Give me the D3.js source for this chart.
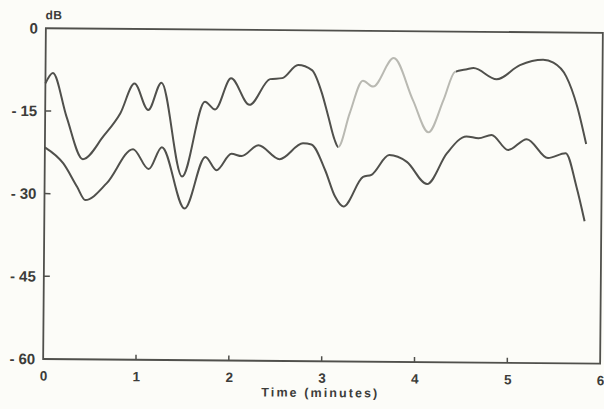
<!DOCTYPE html>
<html>
<head>
<meta charset="utf-8">
<script src="https://cdn.jsdelivr.net/npm/d3@7"></script>
<style>
  html, body { margin: 0; padding: 0; background: #fcfcf8; }
  svg { display: block; }
  text { font-family: "Liberation Sans", Arial, Helvetica, sans-serif; font-weight: bold; fill: #3c3c3a; }
</style>
</head>
<body>
<svg id="chart" width="604" height="409"></svg>
<script>
// ---- data ----
const upperTime = [0, 0.08, 0.23, 0.41, 0.63, 0.81, 0.96, 1.11, 1.25, 1.48, 1.72, 1.83, 2.0, 2.20, 2.42, 2.55, 2.72, 2.87, 2.98, 3.05, 3.12, 3.16, 3.28, 3.42, 3.53, 3.75, 3.96, 4.13, 4.29, 4.41, 4.54, 4.61, 4.86, 5.11, 5.36, 5.47, 5.61, 5.73, 5.83];
const upperDb   = [-10.0, -8.1, -16.0, -23.7, -19.5, -15.3, -9.9, -14.7, -9.7, -26.7, -13.1, -14.5, -8.8, -13.6, -8.9, -8.7, -6.3, -7.2, -11.4, -15.6, -19.8, -21.1, -15.0, -9.05, -10.1, -4.9, -12.5, -18.3, -12.4, -7.3, -6.8, -6.6, -8.6, -6.0, -5.0, -5.5, -8.0, -13.4, -20.2];
const lowerTime = [0, 0.20, 0.35, 0.44, 0.67, 0.95, 1.12, 1.26, 1.51, 1.73, 1.85, 2.01, 2.12, 2.30, 2.53, 2.78, 2.87, 3.02, 3.13, 3.22, 3.43, 3.52, 3.71, 3.90, 4.12, 4.33, 4.54, 4.67, 4.81, 4.99, 5.19, 5.42, 5.61, 5.73, 5.82];
const lowerDb   = [-21.6, -24.5, -28.7, -31.1, -28.0, -21.8, -25.4, -21.4, -32.5, -23.1, -25.5, -22.5, -22.9, -20.9, -23.4, -20.5, -20.7, -25.3, -30.1, -31.9, -26.5, -26.1, -22.5, -23.7, -27.7, -22.1, -19.0, -19.3, -18.7, -21.4, -19.4, -22.8, -21.9, -28.0, -34.2];
// faded (lighter) stretch of the upper trace in the reference
const fadedRange = [3.16, 4.42];
const xTicks = [0, 1, 2, 3, 4, 5, 6];
const yTicks = [0, -15, -30, -45, -60];
const xTitle = "Time (minutes)";
const yTitle = "dB";

(function draw() {
  const svg = d3.select("#chart");
  const pL = 44.5, pR = 601.5, pT = 30.5, pB = 361.3;
  const x = d3.scaleLinear().domain([0, 6]).range([pL, pR]);
  const y = d3.scaleLinear().domain([-60, 0]).range([pB, pT]);
  const dark = "#50504c", light = "#b9b9b2";

  // the scanned original is slightly rotated
  const g = svg.append("g").attr("transform", "rotate(0.47,323,196)");

  // frame
  g.append("rect")
    .attr("x", pL).attr("y", pT)
    .attr("width", pR - pL).attr("height", pB - pT)
    .attr("fill", "none").attr("stroke", dark).attr("stroke-width", 1.8);

  // y axis labels
  const yAxis = d3.axisLeft(y).tickValues(yTicks).tickSize(0).tickPadding(8);
  const ya = g.append("g").attr("transform", `translate(${pL},0)`).call(yAxis);
  ya.select(".domain").remove();
  ya.selectAll("text")
    .attr("font-family", null).attr("fill", "#3c3c3a").style("font-size", "15px")
    .each(function (d) {
      const t = d3.select(this);
      t.text(null);
      if (d < 0) {
        t.append("tspan").text("-");
        t.append("tspan").attr("dx", 4).text(Math.abs(d));
      } else {
        t.text(String(d));
      }
    });

  // y ticks (inward, inner values only)
  g.selectAll(".ytick").data(yTicks.filter(d => d !== 0 && d !== -60)).join("line")
    .attr("x1", pL).attr("x2", pL + 6)
    .attr("y1", d => y(d)).attr("y2", d => y(d))
    .attr("stroke", dark).attr("stroke-width", 1.5);

  // x axis labels
  const xAxis = d3.axisBottom(x).tickValues(xTicks).tickSize(0).tickPadding(12).tickFormat(d3.format("d"));
  const xa = g.append("g").attr("transform", `translate(0,${pB})`).call(xAxis);
  xa.select(".domain").remove();
  xa.selectAll("text").style("font-size", "13.5px").attr("font-family", null).attr("fill", "#3c3c3a");

  // x ticks (inward, inner values only)
  g.selectAll(".xtick").data(xTicks.filter(d => d !== 0 && d !== 6)).join("line")
    .attr("x1", d => x(d)).attr("x2", d => x(d))
    .attr("y1", pB).attr("y2", pB - 5)
    .attr("stroke", dark).attr("stroke-width", 1.5);

  // titles
  g.append("text").attr("x", (pL + pR) / 2 - 1).attr("y", 397)
    .attr("text-anchor", "middle").style("font-size", "12.5px").attr("letter-spacing", "2.1px")
    .text(xTitle);
  g.append("text").attr("x", pL - 0.5).attr("y", 21.5)
    .style("font-size", "12px").attr("letter-spacing", "0.6px").text(yTitle);

  // gradient for the faded stretch of the upper trace
  const defs = svg.append("defs");
  const grad = defs.append("linearGradient").attr("id", "upperGrad")
    .attr("gradientUnits", "userSpaceOnUse")
    .attr("x1", x(0)).attr("x2", x(6)).attr("y1", 0).attr("y2", 0);
  const p1 = fadedRange[0] / 6, p2 = fadedRange[1] / 6;
  [[0, dark], [p1, dark], [p1, light], [p2, light], [p2, dark], [1, dark]].forEach(([o, c]) =>
    grad.append("stop").attr("offset", o).attr("stop-color", c));

  const line = d3.line().x(d => x(d[0])).y(d => y(d[1])).curve(d3.curveMonotoneX);
  const upper = upperTime.map((t, i) => [t, upperDb[i]]);
  const lower = lowerTime.map((t, i) => [t, lowerDb[i]]);

  g.append("path").datum(lower).attr("d", line)
    .attr("fill", "none").attr("stroke", dark).attr("stroke-width", 2).attr("stroke-linejoin", "round");
  g.append("path").datum(upper).attr("d", line)
    .attr("fill", "none").attr("stroke", "url(#upperGrad)").attr("stroke-width", 2).attr("stroke-linejoin", "round");
})();
</script>
</body>
</html>
